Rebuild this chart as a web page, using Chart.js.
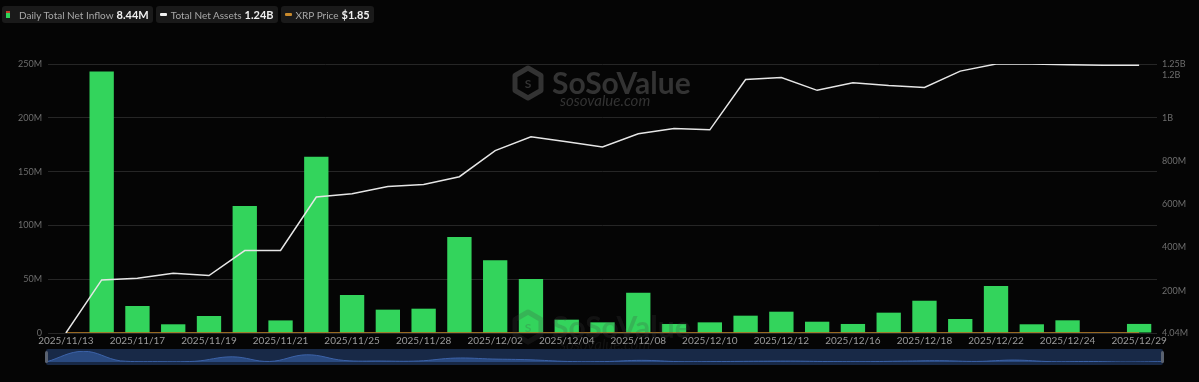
<!DOCTYPE html>
<html>
<head>
<meta charset="utf-8">
<script src="https://cdn.jsdelivr.net/npm/chart.js@4.4.1/dist/chart.umd.min.js"></script>
<style>
  html, body { margin: 0; padding: 0; background: #050505; }
  #wrap { position: relative; width: 1199px; height: 382px; background: #050505; overflow: hidden; font-family: Lato, 'Open Sans', sans-serif; }
  #main { position: absolute; left: 0; top: 0; }
  #legend { position: absolute; left: 2px; top: 6px; display: flex; gap: 3px; }
  .item { background: #1a1a1a; border-radius: 3px; height: 17px; display: flex; align-items: center; padding: 0 4px 0 4px; font-size: 10px; color: #a8a8a8; }
  .item b { color: #f0f0f0; font-size: 11px; margin-left: 3px; font-weight: 700; }
  .sq { width: 4px; height: 7px; margin-right: 9px; background: linear-gradient(#c0392b 0 35%, #2fd45a 35% 100%); }
  .dash { width: 7px; height: 3px; margin-right: 4px; border-radius: 1px; }
  #nav { position: absolute; left: 46px; top: 349px; width: 1117px; height: 16px; background: #182947; border-radius: 2px; }
  #navc { position: absolute; left: 0; top: 0; }
  .handle { position: absolute; top: 2px; width: 3px; height: 12px; background: #5a6270; border-radius: 2px; }
</style>
</head>
<body>
<div id="wrap">
  <canvas id="main" width="1199" height="382"></canvas>
  <div id="legend">
    <div class="item"><span class="sq"></span>Daily Total Net Inflow<b>8.44M</b></div>
    <div class="item"><span class="dash" style="background:#f2f2f2"></span>Total Net Assets<b>1.24B</b></div>
    <div class="item"><span class="dash" style="background:#c98a2c"></span>XRP Price<b>$1.85</b></div>
  </div>
  <div id="nav">
    <canvas id="navc" width="1117" height="16"></canvas>
    <div class="handle" style="left:-1px"></div>
    <div class="handle" style="right:-1px"></div>
  </div>
</div>
<script>
// trading days shown on the chart
const dates = [
  '2025/11/13', '2025/11/14', '2025/11/17', '2025/11/18', '2025/11/19', '2025/11/20', '2025/11/21',
  '2025/11/24', '2025/11/25', '2025/11/26', '2025/11/28', '2025/12/01', '2025/12/02', '2025/12/03',
  '2025/12/04', '2025/12/05', '2025/12/08', '2025/12/09', '2025/12/10', '2025/12/11', '2025/12/12',
  '2025/12/15', '2025/12/16', '2025/12/17', '2025/12/18', '2025/12/19', '2025/12/22', '2025/12/23',
  '2025/12/24', '2025/12/26', '2025/12/29'
];

// daily total net inflow, millions USD
const netInflowM = [
  0, 243, 25.1, 8.1, 15.8, 118, 11.7,
  163.9, 35.3, 21.7, 22.6, 89.2, 67.5, 50.2,
  12.4, 9.9, 37.5, 8.4, 9.9, 16.1, 19.8,
  10.5, 8.4, 18.9, 30, 13, 43.7, 8.1,
  11.8, 0, 8.44
];

// total net assets, millions USD
const netAssetsM = [
  4.04, 250, 258, 281, 270, 386, 386,
  634, 649, 683, 692, 728, 849, 913,
  890, 866, 927, 951, 945, 1178, 1187,
  1128, 1163, 1150, 1141, 1217, 1250, 1250,
  1247, 1244, 1244
];

// XRP price, USD
const xrpPrice = [
  2.42, 2.33, 2.2, 2.17, 2.1, 2.03, 1.95,
  2.05, 2.22, 2.21, 2.2, 2.05, 2.18, 2.2,
  2.1, 2.03, 2.05, 2.06, 2.03, 2.0, 2.01,
  1.97, 1.9, 1.84, 1.83, 1.9, 1.92, 1.87,
  1.86, 1.87, 1.85
];

const leftTicks = [0, 50e6, 100e6, 150e6, 200e6, 250e6];
const rightTicks = [4.04e6, 200e6, 400e6, 600e6, 800e6, 1e9, 1.2e9, 1.25e9];

function fmt(v) {
  if (v === 0) return '0';
  if (v >= 1e9) return parseFloat((v / 1e9).toFixed(2)) + 'B';
  return parseFloat((v / 1e6).toFixed(2)) + 'M';
}

// faint SoSoValue marks
function drawMark(ctx, x, y, color) {
  ctx.save();
  ctx.strokeStyle = color;
  ctx.fillStyle = color;
  ctx.lineWidth = 5;
  ctx.lineJoin = 'round';
  ctx.beginPath();
  for (let k = 0; k < 6; k++) {
    const a = Math.PI / 6 + k * Math.PI / 3;
    const px = x + 15 * Math.cos(a), py = y + 15 * Math.sin(a);
    if (k === 0) ctx.moveTo(px, py); else ctx.lineTo(px, py);
  }
  ctx.closePath();
  ctx.stroke();
  ctx.font = 'bold 12px Lato, sans-serif';
  ctx.textAlign = 'center';
  ctx.textBaseline = 'middle';
  ctx.fillText('S', x, y + 1);
  ctx.textAlign = 'left';
  ctx.textBaseline = 'alphabetic';
  ctx.font = 'bold 30px Lato, sans-serif';
  ctx.fillText('SoSoValue', x + 24, y + 11);
  ctx.font = 'italic 15px Lato, sans-serif';
  ctx.fillText('sosovalue.com', x + 32, y + 23);
  ctx.restore();
}

const watermark = {
  id: 'watermark',
  beforeDatasetsDraw(chart) {
    drawMark(chart.ctx, 528, 83, '#333333');
  },
  afterDatasetsDraw(chart) {
    drawMark(chart.ctx, 528, 327, 'rgba(70,70,70,0.22)');
  }
};

new Chart(document.getElementById('main'), {
  type: 'bar',
  data: {
    labels: dates,
    datasets: [
      {
        type: 'line',
        label: 'Total Net Assets',
        data: netAssetsM.map(v => v * 1e6),
        yAxisID: 'y1',
        borderColor: '#e6e6e6',
        borderWidth: 1.5,
        pointRadius: 0,
        tension: 0,
        order: 0
      },
      {
        type: 'line',
        label: 'XRP Price',
        data: xrpPrice,
        yAxisID: 'y',
        borderColor: '#c98a2c',
        borderWidth: 1.5,
        pointRadius: 0,
        order: 1
      },
      {
        label: 'Daily Total Net Inflow',
        data: netInflowM.map(v => v * 1e6),
        yAxisID: 'y',
        backgroundColor: '#33d45c',
        categoryPercentage: 1,
        barPercentage: 0.68,
        order: 2
      }
    ]
  },
  options: {
    responsive: false,
    animation: false,
    layout: { padding: { top: 64, bottom: 29, left: 0, right: 0 } },
    plugins: { legend: { display: false }, tooltip: { enabled: false } },
    scales: {
      x: {
        offset: true,
        grid: { display: false, drawTicks: false },
        border: { display: false },
        ticks: {
          autoSkip: false,
          maxRotation: 0,
          padding: 2,
          color: '#9a9a9a',
          font: { size: 10, family: 'Lato' },
          callback: (v, i) => (i % 2 === 0 ? dates[i] : '')
        },
        afterFit: s => { s.height = 20; }
      },
      y: {
        position: 'left',
        min: 0,
        max: 250e6,
        afterBuildTicks: s => { s.ticks = leftTicks.map(v => ({ value: v })); },
        grid: { color: '#262626', lineWidth: 1, drawTicks: false },
        border: { display: false },
        ticks: { padding: 6, color: '#6e6e6e', font: { size: 9, family: 'Lato' }, callback: v => fmt(v) },
        afterFit: s => { s.width = 48; }
      },
      y1: {
        position: 'right',
        min: 4.04e6,
        max: 1.25e9,
        afterBuildTicks: s => { s.ticks = rightTicks.map(v => ({ value: v })); },
        grid: { display: false, drawTicks: false },
        border: { display: false },
        ticks: { padding: 5, color: '#6e6e6e', font: { size: 9, family: 'Lato' }, callback: v => fmt(v) },
        afterFit: s => { s.width = 42; }
      }
    }
  },
  plugins: [watermark]
});

// range slider preview under the chart
new Chart(document.getElementById('navc'), {
  type: 'line',
  data: {
    labels: dates,
    datasets: [{
      data: netInflowM,
      borderColor: '#3d63a8',
      borderWidth: 1,
      backgroundColor: '#2a4a80',
      fill: 'origin',
      pointRadius: 0,
      tension: 0.4
    }]
  },
  options: {
    responsive: false,
    animation: false,
    layout: { padding: { top: 2, bottom: 3 } },
    plugins: { legend: { display: false }, tooltip: { enabled: false } },
    scales: {
      x: { display: false, offset: false },
      y: { display: false, min: 0, max: 250 }
    }
  }
});
</script>
</body>
</html>
